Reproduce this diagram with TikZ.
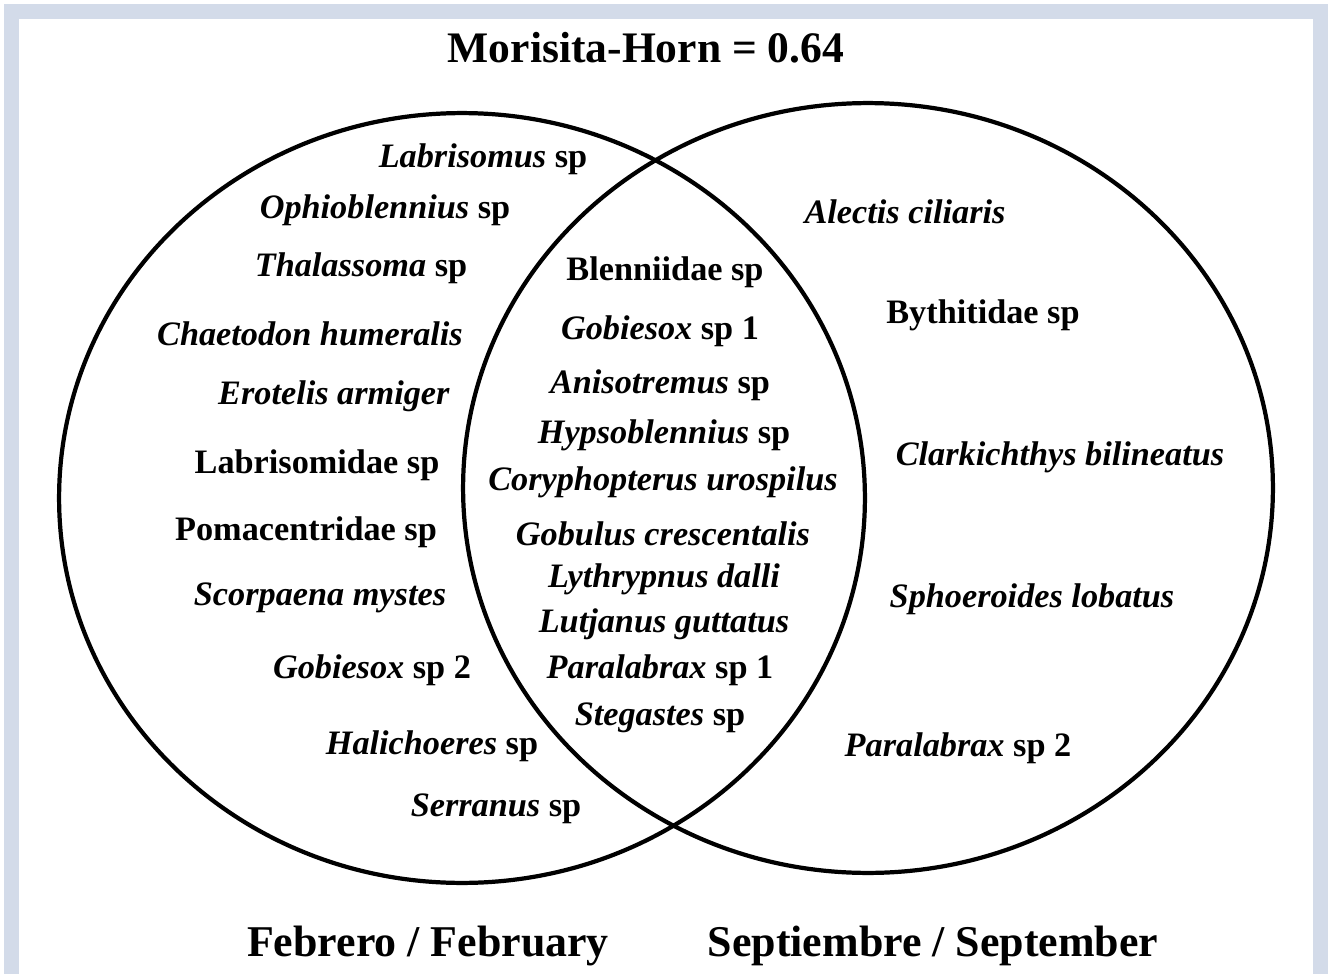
\documentclass[tikz,border=0pt]{standalone}
\usepackage{fontspec}
\setmainfont{Liberation Serif}
\usetikzlibrary{shapes.geometric}
\definecolor{framegray}{HTML}{D3DBE9}

\begin{document}
\begin{tikzpicture}[x=0.02cm,y=-0.02cm]
				\tikzstyle{sp} = [inner sep=0pt, yshift=-0.05cm, font=\fontsize{19.5}{22}\selectfont\bfseries]
				\tikzstyle{big} = [inner sep=0pt, yshift=-0.05cm, font=\fontsize{25}{28}\selectfont\bfseries]
				\tikzstyle{set} = [draw=black, line width=2.4pt, ellipse, inner sep=0pt]
				
				\useasboundingbox (0,0) rectangle (1330,974);
				\fill[white] (0,0) rectangle (1330,974);
				\fill[framegray] (4,4) rectangle (1328,974);
				\fill[white] (19,19) rectangle (1313,974);
				
				\node[set, minimum width=16.12cm, minimum height=15.4cm] (Feb) at (462,498) {};
				\node[set, minimum width=16.2cm, minimum height=15.4cm] (Sep) at (868,488) {};
				
				\node[big, font=\fontsize{24.8}{28}\selectfont\bfseries] (title) at (646,45) {Morisita-Horn = 0.64};
				\node[big] (FebLabel) at (428,943) {Febrero / February};
				\node[big] (SepLabel) at (933,943) {Septiembre / September};
				
				% febrero
				\node[sp] (Labrisomus) at (483,157) {\textit{Labrisomus} sp};
				\node[sp] (Ophioblennius) at (385,208) {\textit{Ophioblennius} sp};
				\node[sp] (Thalassoma) at (361,266) {\textit{Thalassoma} sp};
				\node[sp] (Chaetodon) at (310,331) {\textit{Chaetodon humeralis}};
				\node[sp] (Erotelis) at (334,394) {\textit{Erotelis armiger}};
				\node[sp] (Labrisomidae) at (317,463) {Labrisomidae sp};
				\node[sp] (Pomacentridae) at (306,530) {Pomacentridae sp};
				\node[sp] (Scorpaena) at (320,595) {\textit{Scorpaena mystes}};
				\node[sp] (GobiesoxB) at (372,668) {\textit{Gobiesox} sp 2};
				\node[sp] (Halichoeres) at (432,744) {\textit{Halichoeres} sp};
				\node[sp] (Serranus) at (496,806) {\textit{Serranus} sp};
				
				% ambos
				\node[sp] (Blenniidae) at (665,270) {Blenniidae sp};
				\node[sp] (GobiesoxA) at (660,329) {\textit{Gobiesox} sp 1};
				\node[sp] (Anisotremus) at (660,383) {\textit{Anisotremus} sp};
				\node[sp] (Hypsoblennius) at (664,433) {\textit{Hypsoblennius} sp};
				\node[sp] (Coryphopterus) at (663,480) {\textit{Coryphopterus urospilus}};
				\node[sp] (Gobulus) at (663,531) {\textit{Gobulus crescentalis}};
				\node[sp] (Lythrypnus) at (664,577) {\textit{Lythrypnus dalli}};
				\node[sp] (Lutjanus) at (664,622) {\textit{Lutjanus guttatus}};
				\node[sp] (ParalabraxA) at (660,668) {\textit{Paralabrax} sp 1};
				\node[sp] (Stegastes) at (660,715) {\textit{Stegastes} sp};
				
				% septiembre
				\node[sp] (Alectis) at (905,209) {\textit{Alectis ciliaris}};
				\node[sp] (Bythitidae) at (983,313) {Bythitidae sp};
				\node[sp] (Clarkichthys) at (1060,455) {\textit{Clarkichthys bilineatus}};
				\node[sp] (Sphoeroides) at (1032,597) {\textit{Sphoeroides lobatus}};
				\node[sp] (ParalabraxB) at (958,746) {\textit{Paralabrax} sp 2};
\end{tikzpicture}
\end{document}
